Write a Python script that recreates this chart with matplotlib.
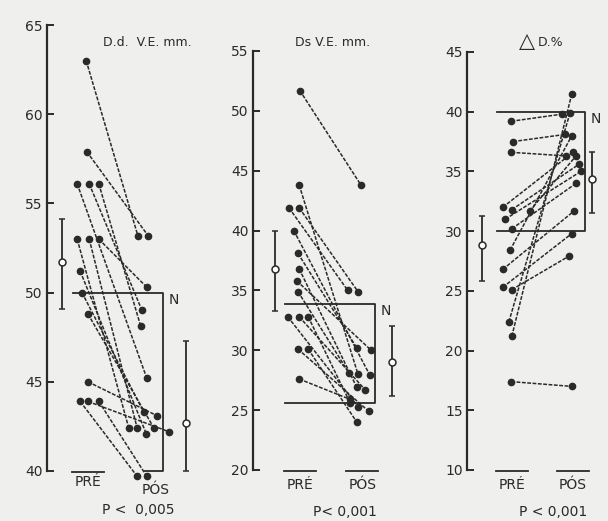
import numpy as np
import matplotlib.pyplot as plt
from matplotlib import transforms

# D.d. V.E. mm (panel 1)
dd_pre = [63.0, 57.9, 56.1, 56.1, 56.1, 53.0, 53.0, 53.0, 51.2, 50.0, 48.8, 45.0, 43.9, 43.9, 43.9]
dd_pos = [53.2, 53.2, 45.2, 49.0, 48.1, 42.4, 42.4, 50.3, 42.1, 43.3, 42.4, 43.1, 39.7, 42.2, 39.7]
dd_mean = [51.7, 42.7]
dd_lo = [49.1, 40.0]
dd_hi = [54.1, 47.3]
dd_norm = [40.0, 50.0]

# Ds V.E. mm (panel 2)
ds_pre = [51.7, 43.8, 41.9, 41.9, 40.0, 38.1, 36.8, 35.8, 34.9, 32.8, 32.8, 32.8, 30.1, 30.1, 27.6]
ds_pos = [43.8, 28.0, 35.0, 34.9, 27.9, 30.2, 26.9, 30.0, 28.1, 25.3, 26.7, 25.6, 24.9, 24.0, 25.9]
ds_mean = [36.8, 29.0]
ds_lo = [33.3, 26.2]
ds_hi = [40.0, 32.0]
ds_norm = [25.6, 33.9]

# delta D % (panel 3)
dp_pre = [39.2, 37.5, 36.6, 32.0, 31.8, 31.7, 31.0, 30.2, 28.4, 26.8, 25.3, 25.1, 22.4, 21.2, 17.4]
dp_pos = [39.8, 38.1, 36.3, 36.6, 35.6, 36.3, 35.0, 34.0, 38.0, 31.7, 29.8, 27.9, 39.9, 41.5, 17.0]
dp_mean = [28.8, 34.4]
dp_lo = [25.8, 31.5]
dp_hi = [31.3, 36.6]
dp_norm = [30.0, 40.0]

categories = ["PRÉ", "PÓS"]
p_labels = ["P <  0,005", "P< 0,001", "P < 0,001"]

# layout only: small horizontal spread of the dots
dd_pre_dx = [-0.03, -0.02, -0.18, 0.02, 0.18, -0.18, 0.02, 0.18, -0.13, -0.10, 0.0, 0.0, -0.13, 0.0, 0.18]
dd_pos_dx = [-0.17, 0.0, -0.02, -0.10, -0.12, -0.32, -0.18, -0.02, -0.03, -0.07, 0.10, 0.15, -0.18, 0.35, -0.02]
ds_pre_dx = [0.03, 0.02, -0.15, 0.02, -0.07, 0.0, 0.02, -0.02, 0.0, -0.17, 0.02, 0.17, 0.0, 0.17, 0.02]
ds_pos_dx = [0.05, 0.0, -0.17, 0.0, 0.2, -0.02, -0.02, 0.22, -0.15, 0.0, 0.12, -0.13, 0.18, -0.02, -0.13]
dp_pre_dx = [0.02, 0.05, 0.02, -0.12, 0.03, 0.33, -0.08, 0.03, 0.0, -0.12, -0.12, 0.03, -0.02, 0.03, 0.02]
dp_pos_dx = [-0.13, -0.08, -0.07, 0.05, 0.15, 0.1, 0.18, 0.1, 0.03, 0.07, 0.03, -0.02, 0.0, 0.03, 0.03]

ink = "#2a2a2a"
W, H = 608, 521

fig = plt.figure(figsize=(W / 100, H / 100), dpi=100, facecolor="#efefed")

panels = [
	dict(pre=dd_pre, pos=dd_pos, pdx=dd_pre_dx, qdx=dd_pos_dx, mean=dd_mean, lo=dd_lo, hi=dd_hi,
		norm=dd_norm, ylim=(40, 65), rect=(47, 471, 205, 25), xlim=(-0.683, 1.95),
		bars=(-0.43, 1.63), box=(-0.25, 1.25), boxbottom=0.95, cat_x=(0.0, 1.13), cat_y=(-0.024, -0.042),
		over=(True, False)),
	dict(pre=ds_pre, pos=ds_pos, pdx=ds_pre_dx, qdx=ds_pos_dx, mean=ds_mean, lo=ds_lo, hi=ds_hi,
		norm=ds_norm, ylim=(20, 55), rect=(253, 470, 410, 51), xlim=(-0.75, 1.867),
		bars=(-0.38, 1.57), box=(-0.22, 1.28), boxbottom=-0.22, cat_x=(0.03, 1.07), cat_y=(-0.035, -0.035),
		over=(True, True)),
	dict(pre=dp_pre, pos=dp_pos, pdx=dp_pre_dx, qdx=dp_pos_dx, mean=dp_mean, lo=dp_lo, hi=dp_hi,
		norm=dp_norm, ylim=(10, 45), rect=(467, 470, 605, 52), xlim=(-0.717, 1.583),
		bars=(-0.47, 1.37), box=(-0.22, 1.25), boxbottom=-0.22, cat_x=(0.03, 1.05), cat_y=(-0.035, -0.035),
		over=(True, True)),
]

for i, p in enumerate(panels):
	x0, y0, x1, y1 = p["rect"]
	ax = fig.add_axes([x0 / W, 1 - y0 / H, (x1 - x0) / W, (y0 - y1) / H])
	ax.set_facecolor("none")
	ax.set_xlim(*p["xlim"])
	ax.set_ylim(*p["ylim"])
	for s in ["top", "right", "bottom"]:
		ax.spines[s].set_visible(False)
	ax.spines["left"].set_color(ink)
	ax.spines["left"].set_linewidth(1.6)
	ax.set_xticks([])
	ax.set_yticks(np.arange(p["ylim"][0], p["ylim"][1] + 1, 5))
	ax.tick_params(axis="y", direction="in", length=5, width=1.4, color=ink, labelcolor=ink,
		labelsize=10, pad=3)

	# individual pre/post pairs
	for a, b, da, db in zip(p["pre"], p["pos"], p["pdx"], p["qdx"]):
		ax.plot([0 + da, 1 + db], [a, b], color=ink, lw=1.1, ls=(0, (2.5, 1)),
			marker="o", ms=4.5, mfc=ink, mec=ink, clip_on=False)

	# mean +/- sd
	for xb, m, lo, hi in zip(p["bars"], p["mean"], p["lo"], p["hi"]):
		ax.errorbar([xb], [m], yerr=[[m - lo], [hi - m]], fmt="o", color=ink, ms=5,
			mfc="white", mec=ink, mew=1.1, elinewidth=1.3, capsize=2.5, clip_on=False)

	# normal range box
	bl, br = p["box"]
	nlo, nhi = p["norm"]
	ax.plot([bl, br, br, p["boxbottom"]], [nhi, nhi, nlo, nlo], color=ink, lw=1.3, clip_on=False)
	ax.text(br + 0.1, nhi, "N", ha="left", va="top", fontsize=10, color=ink)

	# category labels with overline
	tr = transforms.blended_transform_factory(ax.transData, ax.transAxes)
	for cx, cy, lab, ov in zip(p["cat_x"], p["cat_y"], categories, p["over"]):
		ax.text(cx, cy, lab, transform=tr, ha="center", va="center", fontsize=10, color=ink)
		if ov:
			ax.plot([cx - 0.27, cx + 0.27], [-0.002, -0.002], transform=tr, color=ink, lw=1.3, clip_on=False)

# p-values and titles
fig.text(138 / W, 1 - 510 / H, p_labels[0], ha="center", va="center", fontsize=10, color=ink)
fig.text(345 / W, 1 - 512 / H, p_labels[1], ha="center", va="center", fontsize=10, color=ink)
fig.text(553 / W, 1 - 512 / H, p_labels[2], ha="center", va="center", fontsize=10, color=ink)

fig.text(147 / W, 1 - 42 / H, "D.d.  V.E. mm.", ha="center", va="center", fontsize=9, color=ink)
fig.text(333 / W, 1 - 42 / H, "Ds V.E. mm.", ha="center", va="center", fontsize=9, color=ink)
fig.text(527 / W, 1 - 41 / H, "△", ha="center", va="center", fontsize=15, color=ink)
fig.text(551 / W, 1 - 43 / H, "D.%", ha="center", va="center", fontsize=9, color=ink)

fig.savefig("out.png", dpi=100, facecolor=fig.get_facecolor())
